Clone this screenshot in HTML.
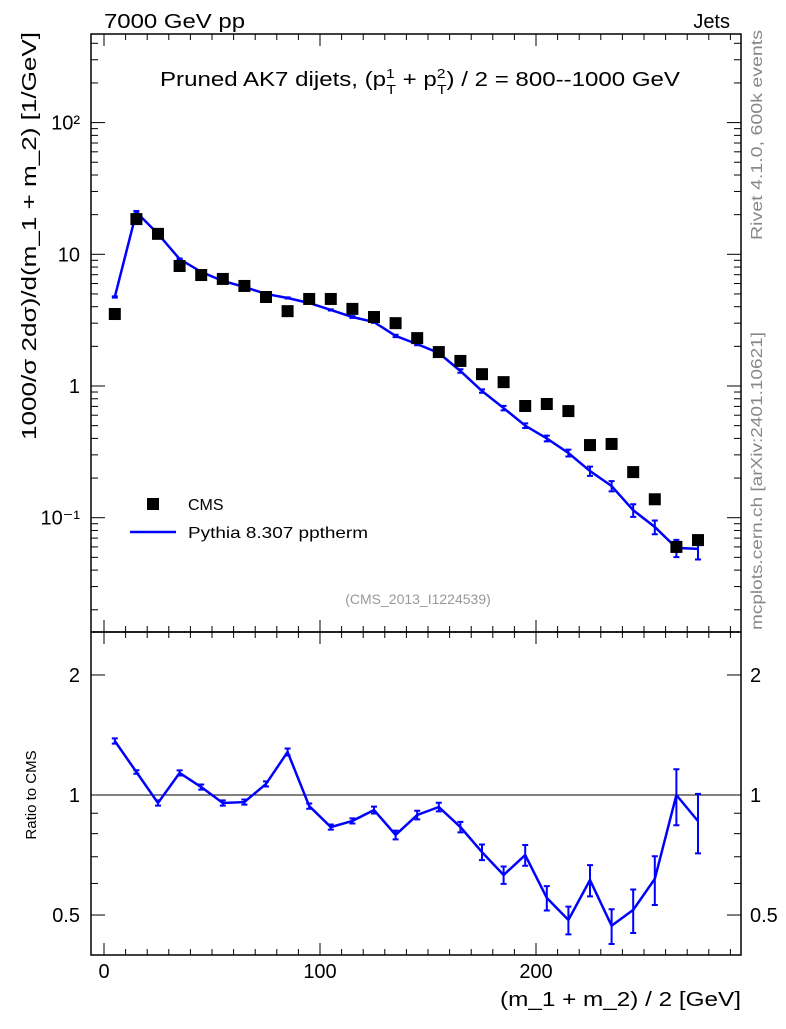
<!DOCTYPE html>
<html><head><meta charset="utf-8"><style>
body{margin:0;background:#fff;}
svg text{font-family:"Liberation Sans",sans-serif;}
</style></head><body>
<svg id="c" width="786" height="1024" xmlns="http://www.w3.org/2000/svg">
<text x="104" y="28" font-size="20" textLength="141" lengthAdjust="spacingAndGlyphs">7000 GeV pp</text>
<text x="730" y="28" font-size="20" text-anchor="end">Jets</text>
<text x="160" y="86" font-size="20" textLength="520" lengthAdjust="spacingAndGlyphs">Pruned AK7 dijets, (p<tspan font-size="13" dy="-8">1</tspan><tspan font-size="13" dx="-7" dy="16">T</tspan><tspan dy="-8"> + p</tspan><tspan font-size="13" dy="-8">2</tspan><tspan font-size="13" dx="-7" dy="16">T</tspan><tspan dy="-8">) / 2 = 800--1000 GeV</tspan></text>
<text transform="translate(762,240) rotate(-90)" font-size="16" fill="#888" textLength="210" lengthAdjust="spacingAndGlyphs">Rivet 4.1.0,  600k events</text>
<text transform="translate(762,630) rotate(-90)" font-size="16" fill="#888" textLength="298" lengthAdjust="spacingAndGlyphs">mcplots.cern.ch [arXiv:2401.10621]</text>
<text x="418" y="604" font-size="14" fill="#999" text-anchor="middle">(CMS_2013_I1224539)</text>
<text transform="translate(36,440) rotate(-90)" font-size="20" textLength="408" lengthAdjust="spacingAndGlyphs">1000/σ   2dσ)/d(m_1 + m_2) [1/GeV]</text>
<text transform="translate(36,795) rotate(-90)" font-size="15" text-anchor="middle">Ratio to CMS</text>
<text x="500" y="1006" font-size="20" textLength="241" lengthAdjust="spacingAndGlyphs">(m_1 + m_2) / 2 [GeV]</text>
<g id="legend">
<rect x="147" y="498" width="12" height="12" fill="#000"/>
<text x="188" y="510" font-size="16">CMS</text>
<line x1="130" y1="532" x2="176" y2="532" stroke="#00f" stroke-width="2.5"/>
<text x="188" y="538" font-size="16" textLength="180" lengthAdjust="spacingAndGlyphs">Pythia 8.307 pptherm</text>
</g>
<g id="g"></g>
</svg>
<script>
const bins=[5,15,25,35,45,55,65,75,85,95,105,115,125,135,145,155,165,175,185,195,205,215,225,235,245,255,265,275];
const cmsValues=[3.52,18.5,14.3,8.15,6.96,6.5,5.75,4.74,3.7,4.58,4.58,3.85,3.34,3.0,2.31,1.81,1.55,1.23,1.07,0.705,0.73,0.645,0.356,0.363,0.222,0.138,0.060,0.0676];
const mcValues=[4.74,20.9,14.3,9.2,7.35,6.27,5.65,5.0,4.66,4.27,3.78,3.34,3.06,2.4,2.08,1.78,1.30,0.916,0.68,0.50,0.40,0.31,0.226,0.174,0.114,0.085,0.059,0.058];
const mcRelErr=[0.01,0.02,0.01,0.01,0.01,0.01,0.01,0.01,0.01,0.01,0.01,0.015,0.015,0.02,0.02,0.025,0.03,0.03,0.04,0.04,0.05,0.06,0.08,0.09,0.11,0.12,0.15,0.17];
const ratioValues=[1.366,1.142,0.955,1.136,1.047,0.955,0.960,1.066,1.282,0.938,0.831,0.861,0.917,0.794,0.891,0.933,0.831,0.719,0.630,0.707,0.552,0.486,0.612,0.47,0.515,0.616,1.0,0.86];
const ratioRelErr=[0.015,0.01,0.015,0.015,0.015,0.015,0.015,0.015,0.02,0.015,0.015,0.015,0.02,0.025,0.025,0.025,0.03,0.045,0.05,0.06,0.07,0.08,0.09,0.10,0.125,0.14,0.16,0.17];
const xTicks=[0,100,200];
const yTicks=[0.1,1,10,100];
const yTickLabels=["10⁻¹","1","10","10²"];
const rTicks=[0.5,1,2];
const rTickLabels=["0.5","1","2"];

const L=91,R=741,T=34,MB=632,RB=955;
const X=v=>104+v*2.16;
const Y=v=>386-131.7*Math.log10(v);
const YR=v=>795-398.7*Math.log10(v);
const NS='http://www.w3.org/2000/svg';
const g=document.getElementById('g');
function mk(t,a,p){const e=document.createElementNS(NS,t);for(const k in a)e.setAttribute(k,a[k]);(p||g).appendChild(e);return e;}

let f=mk('rect',{x:L,y:T,width:R-L,height:MB-T,fill:'none',stroke:'#000','stroke-width':1.5});


f=mk('rect',{x:L,y:MB,width:R-L,height:RB-MB,fill:'none',stroke:'#000','stroke-width':1.5});



for(let v=0;v<=290;v+=10){
  const maj=v%100===0,x=X(v);
  if(x>R)break;
  const len=maj?12:6;
  [[T,1],[MB,-1],[MB,1],[RB,-1]].forEach(([y0,d])=>{
    const t=mk('line',{x1:x,x2:x,y1:y0,y2:y0+d*len,stroke:'#000'});
    
    
  });
}
xTicks.forEach(v=>{
  const t=mk('text',{x:X(v),y:978,'font-size':20,'text-anchor':'middle'});t.textContent=v;
  
  
});
for(let d=-2;d<=2;d++)for(let m=1;m<10;m++){
  const v=m*Math.pow(10,d),y=Y(v);
  if(y<T||y>MB)continue;
  const len=m===1?14:7;
  [[L,1],[R,-1]].forEach(([x0,s])=>{
    const t=mk('line',{x1:x0,x2:x0+s*len,y1:y,y2:y,stroke:'#000'});
    
    
  });
}
yTicks.forEach((v,i)=>{
  const t=mk('text',{x:80,y:Y(v)+7,'font-size':20,'text-anchor':'end'});t.textContent=yTickLabels[i];
  
  
});
[0.5,0.6,0.7,0.8,0.9,1,2].forEach(v=>{
  const y=YR(v),maj=rTicks.includes(v),len=maj?14:7;
  [[L,1],[R,-1]].forEach(([x0,s])=>{
    const t=mk('line',{x1:x0,x2:x0+s*len,y1:y,y2:y,stroke:'#000'});
    
    
  });
});
rTicks.forEach((v,i)=>{
  [[80,'end'],[750,'start']].forEach(([x,a])=>{
    const t=mk('text',{x:x,y:YR(v)+7,'font-size':20,'text-anchor':a});t.textContent=rTickLabels[i];
    
    
  });
});
let ln=mk('line',{x1:L,x2:R,y1:YR(1),y2:YR(1),stroke:'#000'});



let p=mk('polyline',{points:bins.map((b,i)=>X(b)+','+Y(mcValues[i])).join(' '),fill:'none',stroke:'#00f','stroke-width':2.5});


bins.forEach((b,i)=>{
  const x=X(b),y1=Y(mcValues[i]*(1+mcRelErr[i])),y2=Y(mcValues[i]*(1-mcRelErr[i]));
  const e=mk('path',{d:`M${x},${y1}V${y2}M${x-3},${y1}h6M${x-3},${y2}h6`,stroke:'#00f','stroke-width':2,fill:'none'});
  
  
});
bins.forEach((b,i)=>{
  const r=mk('rect',{x:X(b)-6,y:Y(cmsValues[i])-6,width:12,height:12,fill:'#000'});
  
  
});
p=mk('polyline',{points:bins.map((b,i)=>X(b)+','+YR(ratioValues[i])).join(' '),fill:'none',stroke:'#00f','stroke-width':2.5});


bins.forEach((b,i)=>{
  const x=X(b),y1=YR(ratioValues[i]*(1+ratioRelErr[i])),y2=YR(ratioValues[i]*(1-ratioRelErr[i]));
  const e=mk('path',{d:`M${x},${y1}V${y2}M${x-3},${y1}h6M${x-3},${y2}h6`,stroke:'#00f','stroke-width':2,fill:'none'});
  
  
});
</script>
</body></html>
